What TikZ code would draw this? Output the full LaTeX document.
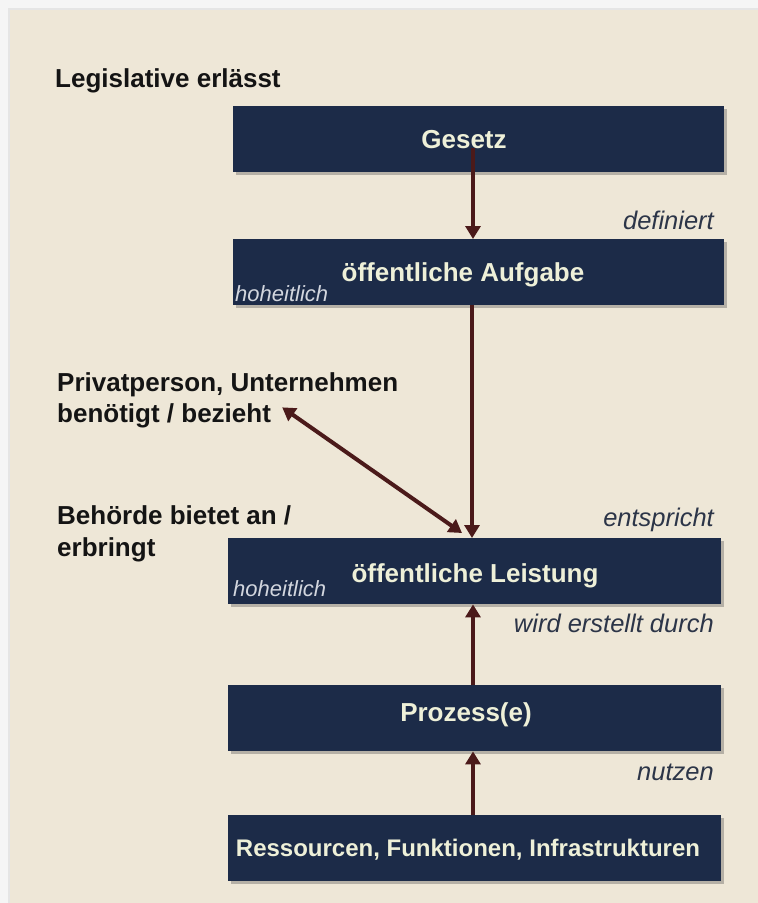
\documentclass[tikz,border=0pt]{standalone}
\usepackage{fontspec}
\setmainfont{Liberation Sans}
\usetikzlibrary{shadows,arrows.meta,calc}
\definecolor{bgbeige}{HTML}{EEE7D7}
\definecolor{outerbg}{HTML}{F5F5F5}
\definecolor{navy}{HTML}{1C2B48}
\definecolor{cream}{HTML}{EEF0D8}
\definecolor{maroon}{HTML}{4B1A1A}
\definecolor{slate}{HTML}{2C3548}
\definecolor{hohcol}{HTML}{D2D6DE}
\begin{document}
\begin{tikzpicture}[x=1pt,y=-1pt,
  panel/.style={fill=navy, draw=none, inner sep=0pt, anchor=north west,
    drop shadow={shadow xshift=3pt, shadow yshift=-3pt, opacity=0.35, fill=black!70}},
  boxtext/.style={text=cream, font=\bfseries\fontsize{26}{30}\selectfont, inner sep=0pt, anchor=base},
  lbl/.style={text=black!92, font=\bfseries\fontsize{26}{31}\selectfont, inner sep=0pt, anchor=base west},
  verb/.style={text=slate, font=\itshape\fontsize{25.5}{30}\selectfont, inner sep=0pt, anchor=base east},
  hoh/.style={text=hohcol, font=\itshape\fontsize{22}{26}\selectfont, inner sep=0pt, anchor=base west},
  conn/.style={draw=maroon, line width=4pt, -{Triangle[length=13pt,width=15pt]}},
  dconn/.style={draw=maroon, line width=4pt, {Triangle[length=13pt,width=15pt]}-{Triangle[length=13pt,width=15pt]}},
]
\useasboundingbox (0,0) rectangle (758,903);
\fill[outerbg] (0,0) rectangle (758,903);
\fill[black!10] (8,8) rectangle (758,903);
\fill[bgbeige] (10,10) rectangle (758,903);

% boxes
\node[panel, minimum width=491pt, minimum height=66pt] (gesetz) at (233,106) {};
\node[panel, minimum width=491pt, minimum height=66pt] (aufgabe) at (233,239) {};
\node[panel, minimum width=493pt, minimum height=66pt] (leistung) at (228,538) {};
\node[panel, minimum width=493pt, minimum height=66pt] (prozess) at (228,685) {};
\node[panel, minimum width=493pt, minimum height=66pt] (ressourcen) at (228,815) {};

% box texts
\node[boxtext] (gesetztext) at (464,148) {Gesetz};
\node[boxtext] (aufgabetext) at (463,281) {öffentliche Aufgabe};
\node[boxtext] (leistungtext) at (475,582) {öffentliche Leistung};
\node[boxtext] (prozesstext) at (466,721) {Prozess(e)};
\node[boxtext, font=\bfseries\fontsize{24}{28}\selectfont] (ressourcentext) at (468,856) {Ressourcen, Funktionen, Infrastrukturen};
\node[hoh] (hoh1) at (235,301) {hoheitlich};
\node[hoh] (hoh2) at (233,596) {hoheitlich};

% left labels
\node[lbl] (legis) at (55,87) {Legislative erlässt};
\node[lbl] (pp1) at (57,391) {Privatperson, Unternehmen};
\node[lbl] (pp2) at (57,422) {benötigt / bezieht};
\node[lbl] (beh1) at (57,524) {Behörde bietet an /};
\node[lbl] (beh2) at (57,556) {erbringt};

% verb labels
\node[verb] (definiert) at (714,229) {definiert};
\node[verb] (entspricht) at (714,526) {entspricht};
\node[verb] (erstellt) at (714,632) {wird erstellt durch};
\node[verb] (nutzen) at (714,780) {nutzen};

% connectors
\coordinate (ax) at (473,0);
\coordinate (bx) at (472,0);
\draw[conn] (gesetztext.south -| ax) -- (aufgabe.north -| ax);
\draw[conn] (aufgabe.south -| bx) -- (leistung.north -| bx);
\draw[conn] (prozess.north -| ax) -- (leistung.south -| ax);
\draw[conn] (ressourcen.north -| ax) -- (prozess.south -| ax);
\coordinate (dend) at (462,533);
\draw[dconn] ($(pp2.east)+(11,-8)$) -- (dend);
\end{tikzpicture}
\end{document}
